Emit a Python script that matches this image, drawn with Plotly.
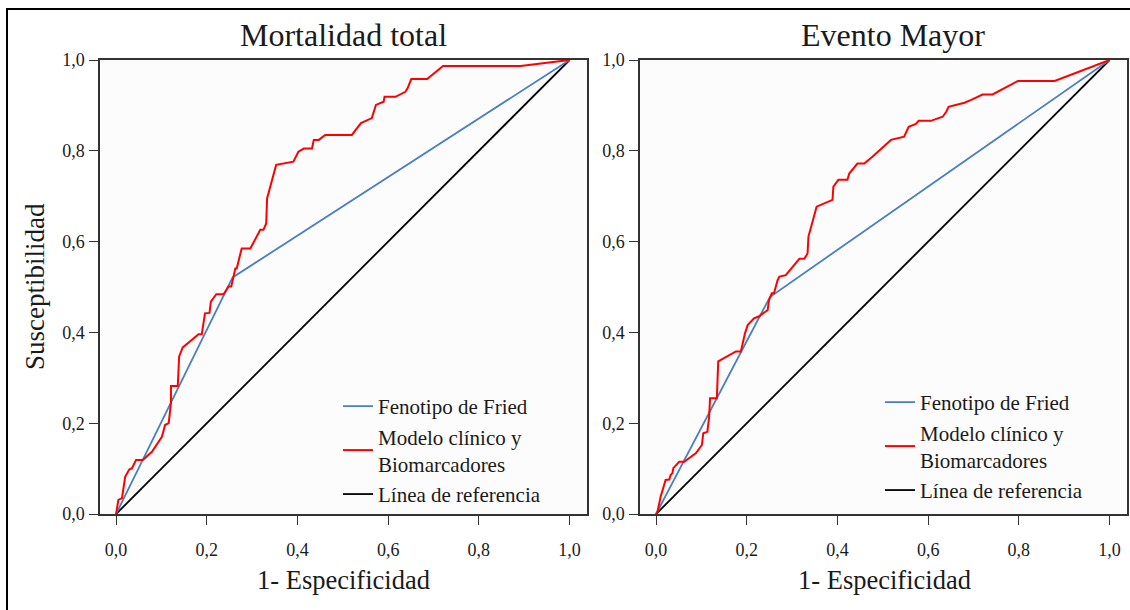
import plotly.graph_objects as go

W, H = 1130, 610

# ---------------- data ----------------
tick_vals = [0.0, 0.2, 0.4, 0.6, 0.8, 1.0]
tick_text = ["0,0", "0,2", "0,4", "0,6", "0,8", "1,0"]

panel_titles = ["Mortalidad total", "Evento Mayor"]
series_names = ["Fenotipo de Fried", "Modelo clínico y<br>Biomarcadores", "Línea de referencia"]

ref_x = [0, 1]
ref_y = [0, 1]

left_fried_x = [0, 0.257, 1]
left_fried_y = [0, 0.521, 1]

right_fried_x = [0, 0.251, 1]
right_fried_y = [0, 0.478, 1]

left_model_x = [0, 0.005, 0.013, 0.020, 0.029, 0.035, 0.044, 0.059, 0.079, 0.101,
                0.108, 0.116, 0.121, 0.121, 0.136, 0.139, 0.147, 0.163, 0.182, 0.189,
                0.196, 0.206, 0.209, 0.221, 0.237, 0.248, 0.254, 0.259, 0.263, 0.266,
                0.277, 0.296, 0.318, 0.325, 0.331, 0.333, 0.353, 0.391, 0.402, 0.414,
                0.432, 0.436, 0.447, 0.461, 0.520, 0.540, 0.564, 0.573, 0.590, 0.592,
                0.616, 0.638, 0.643, 0.651, 0.686, 0.721, 0.892, 1.0]
left_model_y = [0, 0.031, 0.035, 0.082, 0.098, 0.101, 0.119, 0.119, 0.137, 0.170,
                0.196, 0.200, 0.244, 0.282, 0.282, 0.347, 0.367, 0.380, 0.396, 0.396,
                0.442, 0.443, 0.468, 0.484, 0.484, 0.501, 0.501, 0.523, 0.541, 0.541,
                0.585, 0.585, 0.626, 0.626, 0.640, 0.695, 0.769, 0.776, 0.798, 0.805,
                0.805, 0.824, 0.824, 0.835, 0.835, 0.861, 0.872, 0.901, 0.908, 0.919,
                0.919, 0.930, 0.938, 0.958, 0.958, 0.987, 0.987, 1.0]

right_model_x = [0, 0.003, 0.010, 0.021, 0.029, 0.032, 0.036, 0.038, 0.051, 0.062,
                 0.088, 0.101, 0.104, 0.113, 0.117, 0.119, 0.134, 0.137, 0.176, 0.187,
                 0.196, 0.202, 0.216, 0.226, 0.246, 0.249, 0.255, 0.260, 0.268, 0.272,
                 0.286, 0.316, 0.327, 0.334, 0.336, 0.354, 0.389, 0.391, 0.402, 0.422,
                 0.426, 0.444, 0.459, 0.477, 0.518, 0.547, 0.557, 0.573, 0.579, 0.606,
                 0.632, 0.640, 0.645, 0.680, 0.695, 0.720, 0.742, 0.798, 0.879, 1.0]
right_model_y = [0, 0.005, 0.038, 0.075, 0.076, 0.086, 0.090, 0.101, 0.115, 0.115,
                 0.134, 0.152, 0.178, 0.181, 0.214, 0.255, 0.255, 0.336, 0.358, 0.358,
                 0.398, 0.416, 0.431, 0.435, 0.449, 0.471, 0.486, 0.486, 0.515, 0.523,
                 0.526, 0.562, 0.562, 0.574, 0.611, 0.677, 0.692, 0.721, 0.736, 0.736,
                 0.750, 0.772, 0.772, 0.787, 0.824, 0.831, 0.853, 0.859, 0.866, 0.866,
                 0.875, 0.886, 0.897, 0.906, 0.912, 0.924, 0.924, 0.954, 0.954, 1.0]

# ---------------- style ----------------
FONT = "Liberation Serif"
TXT = "#1a1a1a"
BLUE = "#4a7fc0"
RED = "#ff0000"
BLACK = "#000000"

fig = go.Figure()

panels = [
    ("x", "y", "legend", left_fried_x, left_fried_y, left_model_x, left_model_y),
    ("x2", "y2", "legend2", right_fried_x, right_fried_y, right_model_x, right_model_y),
]
for xa, ya, lg, fx, fy, mx, my in panels:
    fig.add_trace(go.Scatter(x=ref_x, y=ref_y, mode="lines", name=series_names[2],
                             line=dict(color=BLACK, width=1.8), xaxis=xa, yaxis=ya,
                             legend=lg, legendrank=3))
    fig.add_trace(go.Scatter(x=fx, y=fy, mode="lines", name=series_names[0],
                             line=dict(color=BLUE, width=1.8), xaxis=xa, yaxis=ya,
                             legend=lg, legendrank=1))
    fig.add_trace(go.Scatter(x=mx, y=my, mode="lines", name=series_names[1],
                             line=dict(color=RED, width=2), xaxis=xa, yaxis=ya,
                             legend=lg, legendrank=2))

axis_common = dict(
    showgrid=False, zeroline=False, showline=True, mirror=True,
    linecolor="#333333", linewidth=1.5,
    ticks="outside", ticklen=9, tickwidth=1.3, tickcolor="#333333",
    tickvals=tick_vals, ticktext=tick_text,
    tickfont=dict(family=FONT, size=18, color=TXT),
)

xr = [-0.0355, 1.0385]
fig.update_layout(
    width=W, height=H,
    margin=dict(l=0, r=0, t=0, b=0, autoexpand=False),
    paper_bgcolor="white",
    plot_bgcolor="#fcfcfc",
    xaxis=dict(domain=[100 / W, 587 / W], range=xr, anchor="y",
               ticklabelstandoff=10, **axis_common),
    yaxis=dict(domain=[1 - 514 / H, 1 - 60 / H], range=[0, 1], anchor="x",
               ticklabelstandoff=1, **axis_common),
    xaxis2=dict(domain=[640 / W, 1127 / W], range=xr, anchor="y2",
                ticklabelstandoff=10, **axis_common),
    yaxis2=dict(domain=[1 - 514 / H, 1 - 60 / H], range=[0, 1], anchor="x2",
                ticklabelstandoff=1, **axis_common),
    legend=dict(x=338 / W, y=1 - 386 / H, xanchor="left", yanchor="top",
                bgcolor="rgba(0,0,0,0)", font=dict(family=FONT, size=21, color=TXT),
                tracegroupgap=0, itemwidth=30),
    legend2=dict(x=880 / W, y=1 - 382 / H, xanchor="left", yanchor="top",
                 bgcolor="rgba(0,0,0,0)", font=dict(family=FONT, size=21, color=TXT),
                 tracegroupgap=0, itemwidth=30),
    showlegend=True,
)

# panel titles
fig.add_annotation(text=panel_titles[0], x=343 / W, y=1 - 35 / H, xref="paper", yref="paper",
                   showarrow=False, xanchor="center", yanchor="middle",
                   font=dict(family=FONT, size=32, color=TXT))
fig.add_annotation(text=panel_titles[1], x=893 / W, y=1 - 35 / H, xref="paper", yref="paper",
                   showarrow=False, xanchor="center", yanchor="middle",
                   font=dict(family=FONT, size=32, color=TXT))
# axis titles
for cx in (343, 884):
    fig.add_annotation(text="1- Especificidad", x=cx / W, y=1 - 580 / H, xref="paper", yref="paper",
                       showarrow=False, xanchor="center", yanchor="middle",
                       font=dict(family=FONT, size=26.5, color=TXT))
fig.add_annotation(text="Susceptibilidad", x=35 / W, y=1 - 287 / H, xref="paper", yref="paper",
                   showarrow=False, xanchor="center", yanchor="middle", textangle=-90,
                   font=dict(family=FONT, size=27, color=TXT))

# outer frame of the figure
fig.add_shape(type="rect", xref="paper", yref="paper",
              x0=7 / W, x1=1.02, y0=-0.02, y1=1 - 9 / H,
              line=dict(color="black", width=2), layer="above")

fig.write_html("out.html")
